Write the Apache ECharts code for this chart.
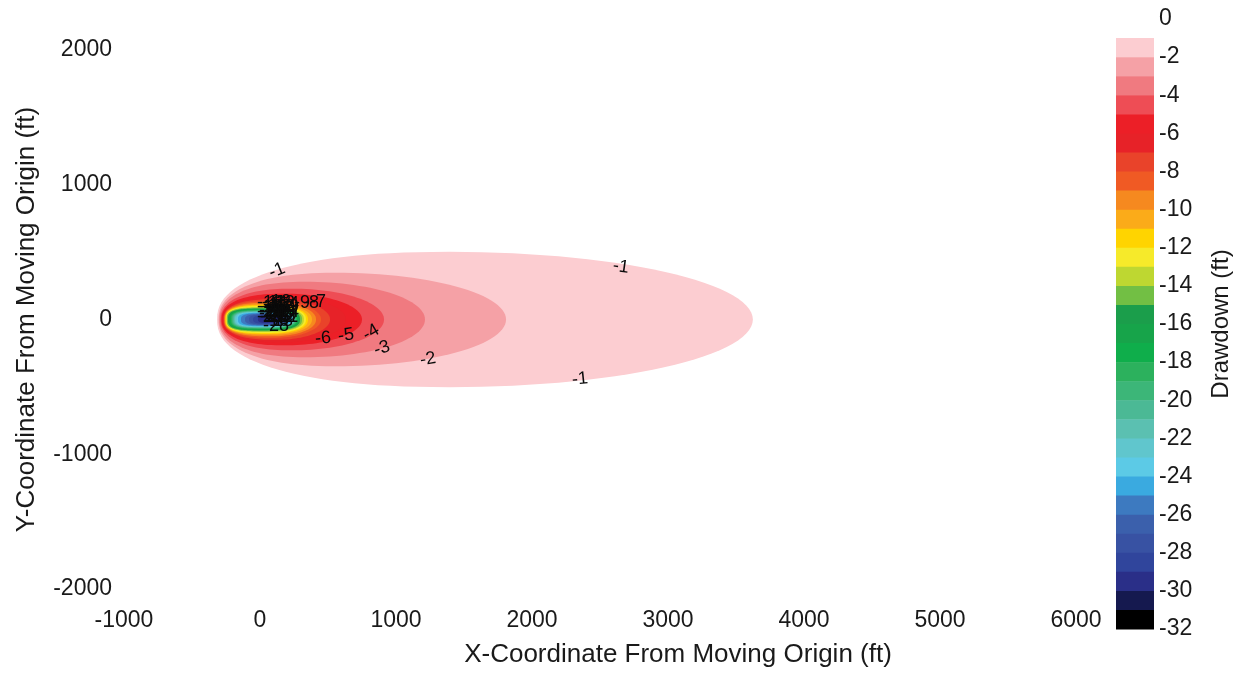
<!DOCTYPE html>
<html>
<head>
<meta charset="utf-8">
<script src="https://cdn.jsdelivr.net/npm/echarts@6/dist/echarts.min.js"></script>
<style>
html,body{margin:0;padding:0;background:#ffffff;}
#chart{width:1234px;height:673px;}
</style>
</head>
<body>
<div id="chart"></div>
<script>
// ---- Axis ticks ----
const xTicks = [-1000, 0, 1000, 2000, 3000, 4000, 5000, 6000];
const yTicks = [-2000, -1000, 0, 1000, 2000];
const colorbarTicks = [0, -2, -4, -6, -8, -10, -12, -14, -16, -18, -20, -22, -24, -26, -28, -30, -32];

// ---- Contour levels (ft of drawdown) and their outline extents (ft) ----
const contourLevels    = [-1, -2, -3, -4, -5, -6, -7, -8, -9, -10, -11, -12, -13, -14, -15, -16, -17, -18, -19, -20, -21, -22, -23, -24, -25, -26, -27, -28, -29];
const contourLeft      = [-316, -305, -298, -290, -283, -276, -268, -265, -261, -257, -254, -250, -246, -243, -235, -228, -221, -213, -206, -199, -191, -184, -173, -162, -140, -110, -81, -51, -15];
const contourRight     = [3624, 1809, 1213, 912, 750, 632, 515, 449, 412, 382, 353, 338, 323, 309, 294, 287, 279, 272, 265, 257, 254, 250, 243, 235, 221, 206, 191, 176, 154];
const contourHalfWidth = [502, 347, 280, 229, 192, 170, 151, 137, 125, 114, 107, 100, 92, 87, 81, 77, 74, 70, 66, 63, 59, 56, 53, 50, 46, 41, 37, 32, 26];
const contourPeakX     = [1397, 551, 331, 235, 184, 147, 118, 96, 81, 66, 51, 44, 37, 29, 22, 22, 22, 22, 22, 22, 22, 22, 22, 22, 29, 44, 51, 59, 66];
const contourSquareness = [2.3, 2.3, 2.3, 2.3, 2.4, 2.4, 2.5, 2.6, 2.7, 2.8, 2.9, 3.0, 3.1, 3.2, 3.3, 3.3, 3.3, 3.3, 3.3, 3.3, 3.3, 3.3, 3.3, 3.3, 3.2, 3.1, 3.0, 2.9, 2.8];

// ---- Colour bands: band i spans [colorbarTop[i], colorbarTop[i]-1] ----
const colorbarTop = [-1, -2, -3, -4, -5, -6, -7, -8, -9, -10, -11, -12, -13, -14, -15, -16, -17, -18, -19, -20, -21, -22, -23, -24, -25, -26, -27, -28, -29, -30, -31];
const bandColors = [
  '#fccdd1', '#f5a1a6', '#f07a80', '#ee4d55', '#ec1f27', '#e72228', '#e9432a', '#f05a24',
  '#f6891f', '#fbab19', '#ffd400', '#f6ea2a', '#bed731', '#72bf44', '#1b9e4b', '#17a44a',
  '#0fae4b', '#2cb15d', '#3cb678', '#4bb995', '#5bc0b1', '#60c6cd', '#5ccae6', '#3aaae0',
  '#3d7ac0', '#3b60ac', '#3852a3', '#30459c', '#2a2f88', '#15194f', '#000000'
];

// ---- Contour labels (position in ft, text, angle in degrees) ----
const labelText  = ['-1', '-1', '-1', '-2', '-3', '-4', '-5', '-6', '-28', '-9', '-8', '-7',
                    '-24', '-25', '-26', '-27',
                    '-10', '-11', '-12', '-13', '-14',
                    '-15', '-16', '-17', '-18', '-19',
                    '-20', '-21', '-22', '-23', '-24',
                    '-25', '-26', '-27', '-12', '-11',
                    '-10', '-13', '-15', '-17', '-19'];
const labelX     = [125, 2654, 2353, 1235, 897, 816, 632, 463, 118, 309, 375, 426,
                    88, 88, 88, 96,
                    74, 103, 132, 162, 191,
                    74, 103, 132, 162, 191,
                    74, 103, 132, 162, 191,
                    74, 103, 132, 162, 191,
                    118, 147, 118, 147, 176];
const labelY     = [362, 391, -443, -295, -214, -96, -118, -140, -52, 125, 125, 133,
                    66, 52, 37, 22,
                    125, 125, 133, 125, 118,
                    89, 89, 89, 89, 89,
                    52, 52, 52, 52, 52,
                    15, 15, 15, 15, 15,
                    -15, -15, 111, 74, 30];
const labelAngle = [22, -8, 6, 10, 18, 30, 8, 5, 0, 0, 0, 0,
                    0, 0, 0, 0, 0, 0, 0, 0, 0, 0, 0, 0, 0, 0, 0, 0, 0, 0, 0, 0, 0, 0, 0, 0, 0, 0, 0, 0, 0];

const FONT = "'Liberation Sans', Arial, Helvetica, sans-serif";
const SHAPE_RIGHT = 2.0;

function outline(xl, xr, h, xp, pl) {
  const top = [];
  const N = 60;
  for (let k = 0; k <= N; k++) {
    const t = Math.PI * k / N;
    const c = Math.cos(t), s = Math.sin(t);
    let x, y;
    if (c >= 0) {
      x = xp - (xp - xl) * Math.pow(c, 2 / pl);
      y = h * Math.pow(s, 2 / pl);
    } else {
      const pr = Math.max(SHAPE_RIGHT, pl - 0.6);
      x = xp + (xr - xp) * Math.pow(-c, 2 / pr);
      y = h * Math.pow(s, 2 / pr);
    }
    top.push([x, y]);
  }
  const pts = top.slice();
  for (let k = N - 1; k > 0; k--) pts.push([top[k][0], -top[k][1]]);
  return pts;
}

const chart = echarts.init(document.getElementById('chart'), null, {renderer: 'canvas'});
const plain = v => String(v);

const option = {
  backgroundColor: '#ffffff',
  animation: false,
  grid: [
    {left: 124, width: 952, top: 50, height: 542},
    {left: 1116, width: 39, top: 19, height: 610}
  ],
  xAxis: [
    {
      gridIndex: 0, type: 'value', min: -1000, max: 6000, interval: 1000,
      axisLine: {show: false}, axisTick: {show: false}, splitLine: {show: false},
      axisLabel: {fontSize: 23, color: '#1a1a1a', fontFamily: FONT, margin: 20,
                  customValues: xTicks, formatter: plain},
      name: 'X-Coordinate From Moving Origin (ft)', nameLocation: 'middle', nameGap: 53,
      nameTextStyle: {fontSize: 26, color: '#1a1a1a', fontFamily: FONT, padding: [0, 0, 0, 156]}
    },
    {gridIndex: 1, type: 'value', min: 0, max: 1, show: false}
  ],
  yAxis: [
    {
      gridIndex: 0, type: 'value', min: -2000, max: 2000, interval: 1000,
      axisLine: {show: false}, axisTick: {show: false}, splitLine: {show: false},
      axisLabel: {fontSize: 23, color: '#1a1a1a', fontFamily: FONT, margin: 12,
                  customValues: yTicks, formatter: plain},
      name: 'Y-Coordinate From Moving Origin (ft)', nameLocation: 'middle', nameGap: 84, nameRotate: 90,
      nameTextStyle: {fontSize: 26, color: '#1a1a1a', fontFamily: FONT}
    },
    {
      gridIndex: 1, type: 'value', min: -32, max: 0, interval: 2, position: 'right',
      axisLine: {show: false}, axisTick: {show: false}, splitLine: {show: false},
      axisLabel: {fontSize: 23, color: '#1a1a1a', fontFamily: FONT, margin: 5,
                  customValues: colorbarTicks, formatter: plain},
      name: 'Drawdown (ft)', nameLocation: 'middle', nameGap: 55, nameRotate: 90,
      nameTextStyle: {fontSize: 24, color: '#1a1a1a', fontFamily: FONT}
    }
  ],
  series: [
    {
      name: 'contours', type: 'custom', xAxisIndex: 0, yAxisIndex: 0, clip: true,
      encode: {x: [0, 1, 3], y: 2},
      data: contourLevels.map((lv, i) => [contourLeft[i], contourRight[i], contourHalfWidth[i], contourPeakX[i], i, lv, contourSquareness[i]]),
      renderItem: function (params, api) {
        const i = api.value(4);
        const pts = outline(api.value(0), api.value(1), api.value(2), api.value(3), api.value(6)).map(p => api.coord(p));
        return {type: 'polygon', z2: i, shape: {points: pts}, style: {fill: bandColors[i], stroke: null}};
      }
    },
    {
      name: 'contour labels', type: 'custom', xAxisIndex: 0, yAxisIndex: 0, z: 5,
      encode: {x: 0, y: 1},
      data: labelText.map((t, i) => [labelX[i], labelY[i], i]),
      renderItem: function (params, api) {
        const i = api.value(2);
        const p = api.coord([api.value(0), api.value(1)]);
        return {
          type: 'text', x: p[0], y: p[1], rotation: labelAngle[i] * Math.PI / 180,
          style: {text: labelText[i], font: '18px ' + FONT, fill: '#0a0a0a', align: 'center', verticalAlign: 'middle'}
        };
      }
    },
    {
      name: 'colorbar', type: 'custom', xAxisIndex: 1, yAxisIndex: 1,
      encode: {y: [0, 1]},
      data: colorbarTop.map((t, i) => [t, t - 1, i]),
      renderItem: function (params, api) {
        const i = api.value(2);
        const a = api.coord([0, api.value(0)]);
        const b = api.coord([1, api.value(1)]);
        return {type: 'rect', shape: {x: a[0], y: a[1], width: b[0] - a[0], height: b[1] - a[1] + 0.5},
                style: {fill: bandColors[i]}};
      }
    }
  ]
};
chart.setOption(option);
</script>
</body>
</html>
